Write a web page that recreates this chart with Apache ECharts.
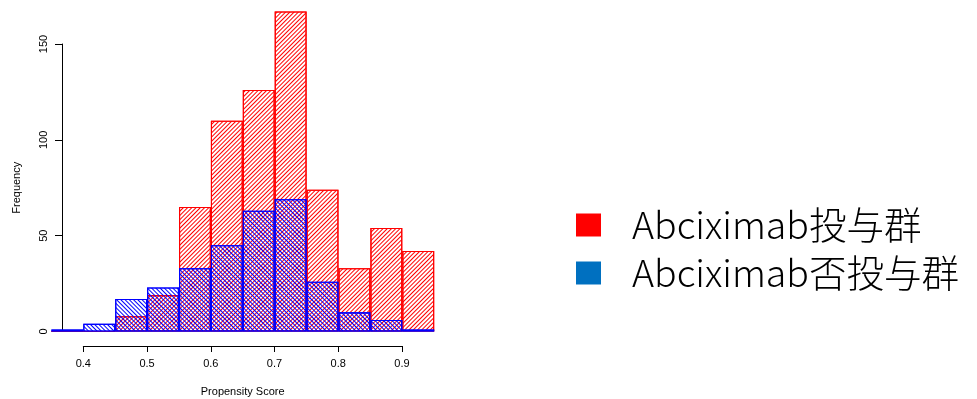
<!DOCTYPE html>
<html>
<head>
<meta charset="utf-8">
<script src="https://cdn.jsdelivr.net/npm/echarts@6/dist/echarts.min.js"></script>
<style>
html,body{margin:0;padding:0;background:#fff;}
#c{width:977px;height:399px;}
</style>
</head>
<body>
<div id="c"></div>
<script>
// ---- data ----
const binStarts = [0.35,0.40,0.45,0.50,0.55,0.60,0.65,0.70,0.75,0.80,0.85,0.90];
const binWidth = 0.05;
const redCounts  = [0,0,8,19,65,110,126,167,74,33,54,42];
const blueCounts = [1,4,17,23,33,45,63,69,26,10,6,1];
const seriesNames = ['Abciximab投与群','Abciximab否投与群'];
const xTicks = [0.4,0.5,0.6,0.7,0.8,0.9];
const yTicks = [0,50,100,150];

function toData(counts){
  return binStarts.map((s,i)=>[+(s+binWidth/2).toFixed(3), counts[i]]);
}

// layout (pixels)
const pxPerX = 638, x04 = 83.3;           // x = 0.4 at 83.3px
const zeroY = 331.5, pxPerY = 287.5/150;  // y = 0 at 331.5px
const xMin = 0.35, xMax = 0.95, yMaxPlot = 172;
const plotLeft = x04 - (0.4 - xMin) * pxPerX;
const plotRight = x04 + (xMax - 0.4) * pxPerX;
const barPx = binWidth * pxPerX;

function hatch(color, rot){
  return {symbol: 'rect', symbolSize: 1, dashArrayX: [1, 0], dashArrayY: [1, 2],
          rotation: rot, color: color, backgroundColor: null};
}

const chart = echarts.init(document.getElementById('c'));
chart.setOption({
  animation: false,
  textStyle: {fontFamily: 'Liberation Sans, Arial, sans-serif'},
  grid: [
    {left: plotLeft, right: 977 - plotRight, top: zeroY - yMaxPlot * pxPerY, bottom: 399 - zeroY},
    {left: x04, width: 402 - x04, top: 300, bottom: 399 - 346},
    {left: 62, right: 977 - plotRight, top: 44, bottom: 399 - zeroY}
  ],
  xAxis: [
    {gridIndex: 0, type: 'value', min: xMin, max: xMax, show: false},
    {gridIndex: 1, type: 'value', min: 0.4, max: 0.9, interval: 0.1,
     axisLine: {show: true, onZero: false, lineStyle: {color: '#000', width: 1}},
     axisTick: {show: true, inside: false, length: 6, lineStyle: {color: '#000'}},
     axisLabel: {color: '#000', fontSize: 11, margin: 12,
       formatter: v => xTicks.some(t => Math.abs(t - v) < 1e-9) ? v.toFixed(1) : ''},
     splitLine: {show: false},
     name: 'Propensity Score', nameLocation: 'middle', nameGap: 40,
     nameTextStyle: {color: '#000', fontSize: 11}},
    {gridIndex: 2, type: 'value', show: false}
  ],
  yAxis: [
    {gridIndex: 0, type: 'value', min: 0, max: yMaxPlot, show: false},
    {gridIndex: 1, type: 'value', show: false},
    {gridIndex: 2, type: 'value', min: 0, max: 150, interval: 50,
     axisLine: {show: true, onZero: false, lineStyle: {color: '#000', width: 1}},
     axisTick: {show: true, inside: false, length: 7, lineStyle: {color: '#000'}},
     axisLabel: {color: '#000', fontSize: 11, rotate: 90, margin: 13,
       formatter: v => yTicks.includes(v) ? String(v) : ''},
     splitLine: {show: false},
     name: 'Frequency', nameLocation: 'middle', nameGap: 40, nameRotate: 90,
     nameTextStyle: {color: '#000', fontSize: 11}}
  ],
  legend: {
    orient: 'vertical', left: 571, top: 200,
    icon: 'rect', itemWidth: 25, itemHeight: 23, itemGap: 8,
    selectedMode: false,
    textStyle: {fontSize: 37.5, lineHeight: 40, color: '#000', fontWeight: 300,
      fontFamily: 'Noto Sans CJK JP, sans-serif', padding: [0,0,0,26]},
    data: [
      {name: seriesNames[0], itemStyle: {color: '#ff0000', borderWidth: 0, decal: 'none'}},
      {name: seriesNames[1], itemStyle: {color: '#0070c0', borderWidth: 0, decal: 'none'}}
    ]
  },
  series: [
    {type: 'bar', name: seriesNames[0], xAxisIndex: 0, yAxisIndex: 0,
     barWidth: barPx, barGap: '-100%', clip: true,
     itemStyle: {color: 'rgba(255,255,255,0)', borderColor: '#ff0000', borderWidth: 1.1,
       decal: hatch('#ff0000', -Math.PI/4)},
     data: toData(redCounts)},
    {type: 'bar', name: seriesNames[1], xAxisIndex: 0, yAxisIndex: 0,
     barWidth: barPx, barGap: '-100%', clip: true,
     itemStyle: {color: 'rgba(255,255,255,0)', borderColor: '#0000ff', borderWidth: 1.1,
       decal: hatch('#0000ff', Math.PI/4)},
     data: toData(blueCounts)}
  ]
});
</script>
</body>
</html>
